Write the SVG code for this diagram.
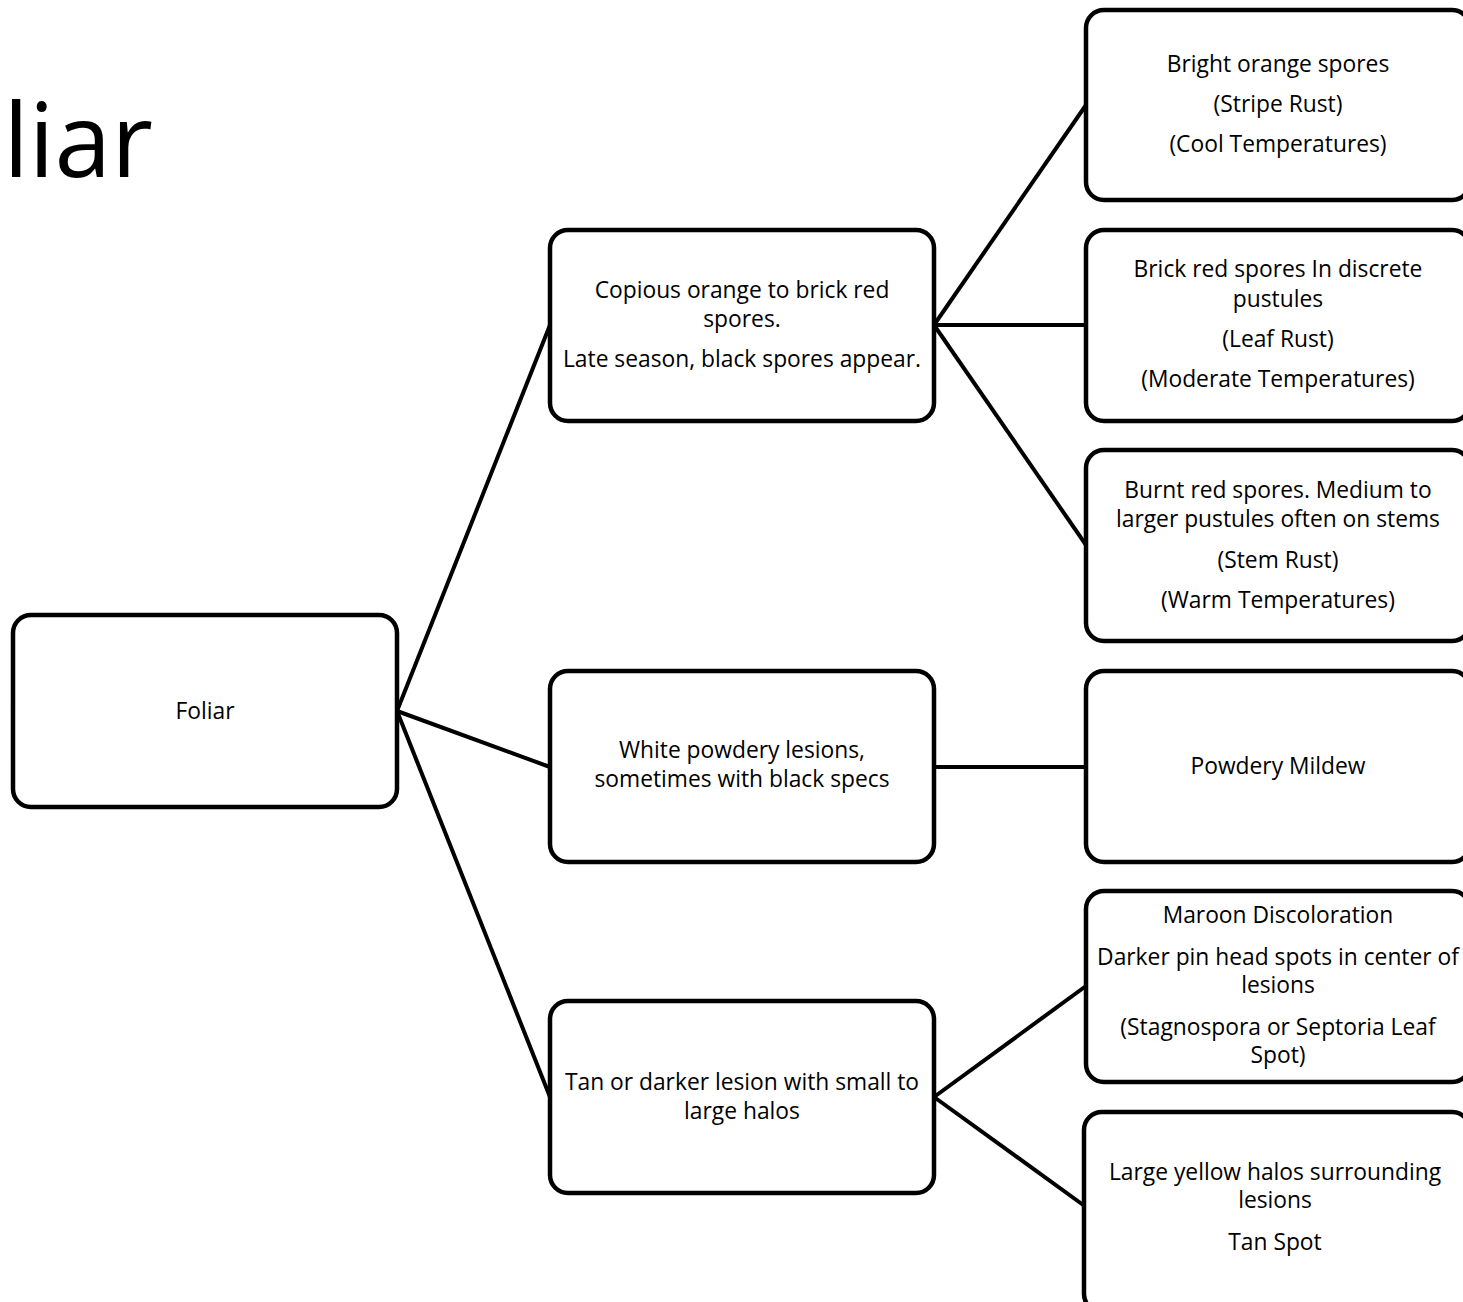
<svg xmlns="http://www.w3.org/2000/svg" width="1463" height="1302" viewBox="0 0 1463 1302">
<style>
.box{fill:#fff;stroke:#000;stroke-width:4.5}
.t{font-family:"Open Sans","Liberation Sans",sans-serif;font-size:22.8px;fill:#000;text-anchor:middle}
.c{stroke:#000;stroke-width:4;fill:none}
.title{font-family:"Open Sans","Liberation Sans",sans-serif;font-size:102px;fill:#000}
</style>
<rect width="1463" height="1302" fill="#fff"/>
<text class="title" x="153" y="177" text-anchor="end">liar</text>
<g id="connectors">
<line class="c" x1="397" y1="711" x2="550" y2="325"/>
<line class="c" x1="397" y1="711" x2="550" y2="767"/>
<line class="c" x1="397" y1="711" x2="550" y2="1097"/>
<line class="c" x1="934" y1="325" x2="1086" y2="105"/>
<line class="c" x1="934" y1="325" x2="1086" y2="325"/>
<line class="c" x1="934" y1="325" x2="1086" y2="545"/>
<line class="c" x1="934" y1="767" x2="1086" y2="767"/>
<line class="c" x1="934" y1="1097" x2="1086" y2="986"/>
<line class="c" x1="934" y1="1097" x2="1086" y2="1207"/>
</g>
<g id="foliar">
<rect class="box" x="13" y="615" width="384" height="192" rx="18"/>
<text class="t" x="205" y="719">Foliar</text>
</g>
<g id="copious">
<rect class="box" x="550" y="230" width="384" height="191" rx="18"/>
<text class="t" x="742" y="298">Copious orange to brick red</text>
<text class="t" x="742" y="327">spores.</text>
<text class="t" x="742" y="367">Late season, black spores appear.</text>
</g>
<g id="white">
<rect class="box" x="550" y="671" width="384" height="191" rx="18"/>
<text class="t" x="742" y="758">White powdery lesions,</text>
<text class="t" x="742" y="787">sometimes with black specs</text>
</g>
<g id="tan">
<rect class="box" x="550" y="1001" width="384" height="192" rx="18"/>
<text class="t" x="742" y="1090">Tan or darker lesion with small to</text>
<text class="t" x="742" y="1119">large halos</text>
</g>
<g id="stripe">
<rect class="box" x="1086" y="10" width="384" height="190" rx="18"/>
<text class="t" x="1278" y="72">Bright orange spores</text>
<text class="t" x="1278" y="112">(Stripe Rust)</text>
<text class="t" x="1278" y="152">(Cool Temperatures)</text>
</g>
<g id="leaf">
<rect class="box" x="1086" y="230" width="384" height="191" rx="18"/>
<text class="t" x="1278" y="277">Brick red spores In discrete</text>
<text class="t" x="1278" y="307">pustules</text>
<text class="t" x="1278" y="347">(Leaf Rust)</text>
<text class="t" x="1278" y="387">(Moderate Temperatures)</text>
</g>
<g id="stem">
<rect class="box" x="1086" y="450" width="384" height="191" rx="18"/>
<text class="t" x="1278" y="498">Burnt red spores. Medium to</text>
<text class="t" x="1278" y="527">larger pustules often on stems</text>
<text class="t" x="1278" y="568">(Stem Rust)</text>
<text class="t" x="1278" y="608">(Warm Temperatures)</text>
</g>
<g id="powdery">
<rect class="box" x="1086" y="671" width="384" height="191" rx="18"/>
<text class="t" x="1278" y="774">Powdery Mildew</text>
</g>
<g id="septoria">
<rect class="box" x="1086" y="891" width="384" height="191" rx="18"/>
<text class="t" x="1278" y="923">Maroon Discoloration</text>
<text class="t" x="1278" y="965">Darker pin head spots in center of</text>
<text class="t" x="1278" y="993">lesions</text>
<text class="t" x="1278" y="1035">(Stagnospora or Septoria Leaf</text>
<text class="t" x="1278" y="1063">Spot)</text>
</g>
<g id="tanspot">
<rect class="box" x="1084" y="1112" width="386" height="200" rx="18"/>
<text class="t" x="1275" y="1180">Large yellow halos surrounding</text>
<text class="t" x="1275" y="1208">lesions</text>
<text class="t" x="1275" y="1250">Tan Spot</text>
</g>
</svg>
